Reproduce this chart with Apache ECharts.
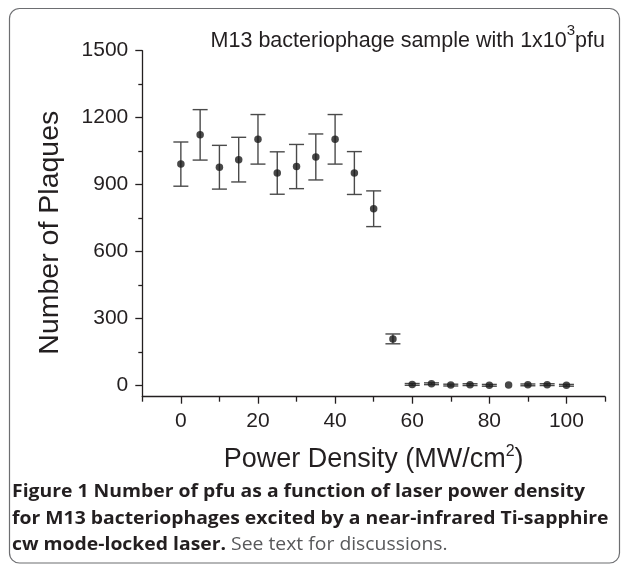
<!DOCTYPE html>
<html><head><meta charset="utf-8">
<script src="https://cdn.jsdelivr.net/npm/echarts@6/dist/echarts.min.js"></script>
<style>html,body{margin:0;padding:0;background:#fff}#c{width:627px;height:566px}</style>
</head><body><div id="c"></div>
<script>
// ---- data ----
const powerDensity = [0, 5, 10, 15, 20, 25, 30, 35, 40, 45, 50, 55, 60, 65, 70, 75, 80, 85, 90, 95, 100];
const plaques      = [992, 1123, 978, 1012, 1103, 952, 981, 1024, 1103, 952, 792, 209, 5, 8, 2, 4, 1, 2, 3, 4, 1];
const plaqueErrors = [99, 113, 98, 100, 111, 95, 99, 103, 111, 96, 80, 22, 4, 4, 4, 4, 4, null, 4, 4, 4];
const xTickLabels = [0, 20, 40, 60, 80, 100];
const xMinorTicks = [-10, 10, 30, 50, 70, 90, 110];
const yTickLabels = [0, 300, 600, 900, 1200, 1500];
const yMinorTicks = [150, 450, 750, 1050, 1350];
const titleText = 'M13 bacteriophage sample with 1x10{sup|3}pfu';
const xAxisName = 'Power Density (MW/cm{sup|2})';
const yAxisName = 'Number of Plaques';
const captionLine1 = 'Figure 1 Number of pfu as a function of laser power density';
const captionLine2 = 'for M13 bacteriophages excited by a near-infrared Ti-sapphire';
const captionLine3Bold = 'cw mode-locked laser.';
const captionLine3Regular = 'See text for discussions.';

// ---- layout ----
const W = 627, H = 566;
const gridLeft = 142.3, gridRight = 22, gridTop = 50.7, gridBottom = 169.3;
const gridW = W - gridLeft - gridRight, gridH = H - gridTop - gridBottom;
const ink = '#231f20';
const axisFont = 'Liberation Sans';

// caption horizontal fit (condensed face in original)
const capFont = 'Open Sans';
const capSize = 18;
const mctx = document.createElement('canvas').getContext('2d');
mctx.font = 'bold ' + capSize + 'px "' + capFont + '"';
const capScale = 573 / mctx.measureText(captionLine1).width;

const errData = powerDensity.map((x, i) => [x, plaques[i], plaqueErrors[i] == null ? '-' : plaqueErrors[i]]);
const ptData = powerDensity.map((x, i) => [x, plaques[i]]);

const chart = echarts.init(document.getElementById('c'), null, {renderer: 'canvas', width: W, height: H});

const axisLineStyle = {color: ink, width: 1.3};
const plainNum = v => String(v);

chart.setOption({
  animation: false,
  backgroundColor: '#ffffff',
  grid: {left: gridLeft, right: gridRight, top: gridTop, bottom: gridBottom, containLabel: false, outerBoundsMode: 'none'},
  xAxis: [{
    type: 'value', min: -10, max: 110, interval: 10,
    splitLine: {show: false},
    axisLine: {show: true, onZero: false, lineStyle: axisLineStyle},
    axisTick: {show: true, length: 7, lineStyle: axisLineStyle, customValues: xTickLabels},
    axisLabel: {customValues: xTickLabels, formatter: plainNum, margin: 14, fontSize: 21, fontFamily: axisFont, color: ink},
    name: xAxisName, nameLocation: 'middle', nameGap: 47,
    nameTextStyle: {fontSize: 27, fontFamily: axisFont, color: ink, lineHeight: 31,
      rich: {sup: {fontSize: 16, fontFamily: axisFont, color: ink, lineHeight: 16, padding: [0, 0, 15, 0]}}}
  }, {
    type: 'value', min: -10, max: 110, interval: 10, position: 'top', offset: -gridH,
    splitLine: {show: false},
    axisLine: {show: false, onZero: false},
    axisTick: {show: true, inside: true, length: 5, lineStyle: axisLineStyle, customValues: xMinorTicks},
    axisLabel: {show: false}
  }],
  yAxis: [{
    type: 'value', min: -50, max: 1500,
    splitLine: {show: false},
    axisLine: {show: true, onZero: false, lineStyle: axisLineStyle},
    axisTick: {show: true, length: 7, lineStyle: axisLineStyle, customValues: yTickLabels},
    axisLabel: {customValues: yTickLabels, formatter: plainNum, margin: 14, fontSize: 21, fontFamily: axisFont, color: ink},
    name: yAxisName, nameLocation: 'middle', nameGap: 78,
    nameTextStyle: {fontSize: 28.5, fontFamily: axisFont, color: ink, padding: [0, 18, 0, 0]}
  }, {
    type: 'value', min: -50, max: 1500, position: 'right', offset: -gridW,
    splitLine: {show: false},
    axisLine: {show: false, onZero: false},
    axisTick: {show: true, inside: true, length: 4, lineStyle: axisLineStyle, customValues: yMinorTicks},
    axisLabel: {show: false}
  }],
  series: [{
    type: 'custom',
    xAxisIndex: 0, yAxisIndex: 0,
    data: errData,
    z: 2,
    renderItem: function (params, api) {
      const x = api.value(0), y = api.value(1), e = api.value(2);
      if (e == null || isNaN(e)) return null;
      const top = api.coord([x, y + e]);
      const bot = api.coord([x, y - e]);
      const hw = 7.5;
      const st = {stroke: '#4a4a4a', lineWidth: 1.4};
      return {type: 'group', children: [
        {type: 'line', shape: {x1: top[0], y1: top[1], x2: bot[0], y2: bot[1]}, style: st},
        {type: 'line', shape: {x1: top[0] - hw, y1: top[1], x2: top[0] + hw, y2: top[1]}, style: st},
        {type: 'line', shape: {x1: bot[0] - hw, y1: bot[1], x2: bot[0] + hw, y2: bot[1]}, style: st}
      ]};
    }
  }, {
    type: 'scatter',
    xAxisIndex: 0, yAxisIndex: 0,
    data: ptData,
    symbol: 'circle', symbolSize: 7.5,
    itemStyle: {color: '#1a1a1a'},
    z: 3
  }],
  graphic: [
    {type: 'rect', shape: {x: 9.5, y: 8.5, width: 610, height: 554.5, r: 10},
      style: {fill: 'none', stroke: '#6d6e71', lineWidth: 1.2}, silent: true},
    {type: 'text', x: 605, y: 41,
      style: {text: titleText, fontFamily: axisFont, fontSize: 21.5, fill: ink,
        align: 'right', verticalAlign: 'middle',
        rich: {sup: {fontSize: 15, fontFamily: axisFont, fill: ink, padding: [0, 0, 20, 0]}}}},
    {type: 'text', x: 12, y: 492, scaleX: capScale,
      style: {text: captionLine1, fontFamily: capFont, fontWeight: 'bold', fontSize: capSize, fill: ink,
        align: 'left', verticalAlign: 'middle'}},
    {type: 'text', x: 12, y: 518.5, scaleX: capScale,
      style: {text: captionLine2, fontFamily: capFont, fontWeight: 'bold', fontSize: capSize, fill: ink,
        align: 'left', verticalAlign: 'middle'}},
    {type: 'text', x: 12, y: 545, scaleX: capScale,
      style: {text: '{b|' + captionLine3Bold + '} {r|' + captionLine3Regular + '}',
        fontFamily: capFont, fontSize: capSize, fill: ink, align: 'left', verticalAlign: 'middle',
        rich: {
          b: {fontFamily: capFont, fontWeight: 'bold', fontSize: capSize, fill: ink},
          r: {fontFamily: capFont, fontWeight: 'normal', fontSize: capSize, fill: '#58595b'}
        }}}
  ]
});
</script>
</body></html>
